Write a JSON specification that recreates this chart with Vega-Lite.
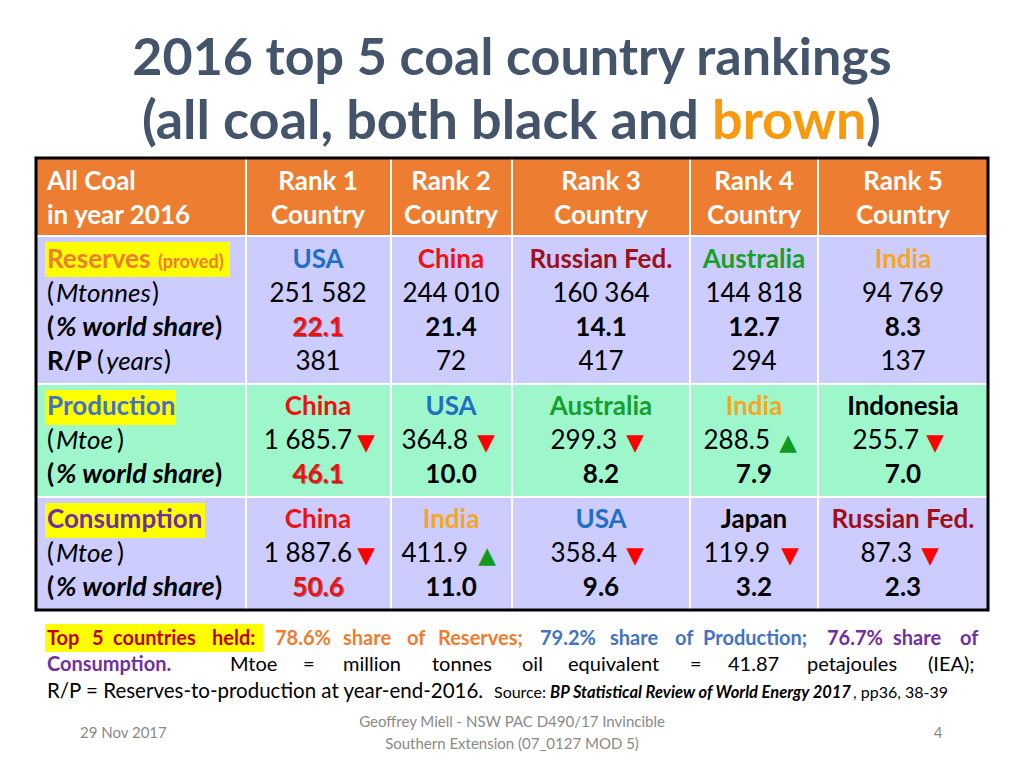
{
  "$schema": "https://vega.github.io/schema/vega-lite/v6.json",
  "width": 1024,
  "height": 768,
  "autosize": {"type": "fit", "contains": "padding"},
  "padding": 0,
  "background": "white",
  "config": {"view": {"stroke": null}},
  "datasets": {
    "cells": [
      {"x1": 36, "x2": 246, "y1": 158, "y2": 236, "f": "#ED7D31"},
      {"x1": 246, "x2": 391, "y1": 158, "y2": 236, "f": "#ED7D31"},
      {"x1": 391, "x2": 512, "y1": 158, "y2": 236, "f": "#ED7D31"},
      {"x1": 512, "x2": 690, "y1": 158, "y2": 236, "f": "#ED7D31"},
      {"x1": 690, "x2": 818, "y1": 158, "y2": 236, "f": "#ED7D31"},
      {"x1": 818, "x2": 988, "y1": 158, "y2": 236, "f": "#ED7D31"},
      {"x1": 36, "x2": 246, "y1": 236, "y2": 384, "f": "#CCCCFF"},
      {"x1": 246, "x2": 391, "y1": 236, "y2": 384, "f": "#CCCCFF"},
      {"x1": 391, "x2": 512, "y1": 236, "y2": 384, "f": "#CCCCFF"},
      {"x1": 512, "x2": 690, "y1": 236, "y2": 384, "f": "#CCCCFF"},
      {"x1": 690, "x2": 818, "y1": 236, "y2": 384, "f": "#CCCCFF"},
      {"x1": 818, "x2": 988, "y1": 236, "y2": 384, "f": "#CCCCFF"},
      {"x1": 36, "x2": 246, "y1": 384, "y2": 497, "f": "#9EF7CB"},
      {"x1": 246, "x2": 391, "y1": 384, "y2": 497, "f": "#9EF7CB"},
      {"x1": 391, "x2": 512, "y1": 384, "y2": 497, "f": "#9EF7CB"},
      {"x1": 512, "x2": 690, "y1": 384, "y2": 497, "f": "#9EF7CB"},
      {"x1": 690, "x2": 818, "y1": 384, "y2": 497, "f": "#9EF7CB"},
      {"x1": 818, "x2": 988, "y1": 384, "y2": 497, "f": "#9EF7CB"},
      {"x1": 36, "x2": 246, "y1": 497, "y2": 610, "f": "#CCCCFF"},
      {"x1": 246, "x2": 391, "y1": 497, "y2": 610, "f": "#CCCCFF"},
      {"x1": 391, "x2": 512, "y1": 497, "y2": 610, "f": "#CCCCFF"},
      {"x1": 512, "x2": 690, "y1": 497, "y2": 610, "f": "#CCCCFF"},
      {"x1": 690, "x2": 818, "y1": 497, "y2": 610, "f": "#CCCCFF"},
      {"x1": 818, "x2": 988, "y1": 497, "y2": 610, "f": "#CCCCFF"}
    ],
    "highlights": [
      {"x1": 45, "x2": 230, "y1": 242, "y2": 277},
      {"x1": 45, "x2": 176, "y1": 390, "y2": 425},
      {"x1": 45, "x2": 205, "y1": 503, "y2": 538},
      {"x1": 45, "x2": 263, "y1": 624, "y2": 652}
    ],
    "border": [{"x1": 36, "x2": 988, "y1": 158, "y2": 610}],
    "texts": [
      {"t": "2016 top 5 coal country rankings", "x": 512, "y": 75, "c": "#44546A", "z": 52, "s": "cb"},
      {"t": "(all coal, both black and", "x": 699, "y": 139, "c": "#44546A", "z": 54, "s": "rb"},
      {"t": "brown", "x": 712, "y": 139, "c": "#F79A0E", "z": 54, "s": "lb"},
      {"t": ")", "x": 866, "y": 139, "c": "#44546A", "z": 54, "s": "lb"},

      {"t": "All Coal", "x": 47, "y": 190, "c": "#FFFFFF", "z": 26, "s": "lb"},
      {"t": "in year 2016", "x": 47, "y": 224, "c": "#FFFFFF", "z": 26, "s": "lb"},
      {"t": "Rank 1", "x": 318, "y": 190, "c": "#FFFFFF", "z": 26, "s": "cb"},
      {"t": "Rank 2", "x": 451, "y": 190, "c": "#FFFFFF", "z": 26, "s": "cb"},
      {"t": "Rank 3", "x": 601, "y": 190, "c": "#FFFFFF", "z": 26, "s": "cb"},
      {"t": "Rank 4", "x": 754, "y": 190, "c": "#FFFFFF", "z": 26, "s": "cb"},
      {"t": "Rank 5", "x": 903, "y": 190, "c": "#FFFFFF", "z": 26, "s": "cb"},
      {"t": "Country", "x": 318, "y": 224, "c": "#FFFFFF", "z": 26, "s": "cb"},
      {"t": "Country", "x": 451, "y": 224, "c": "#FFFFFF", "z": 26, "s": "cb"},
      {"t": "Country", "x": 601, "y": 224, "c": "#FFFFFF", "z": 26, "s": "cb"},
      {"t": "Country", "x": 754, "y": 224, "c": "#FFFFFF", "z": 26, "s": "cb"},
      {"t": "Country", "x": 903, "y": 224, "c": "#FFFFFF", "z": 26, "s": "cb"},

      {"t": "Reserves", "x": 47, "y": 268, "c": "#ED7D31", "z": 26, "s": "lb"},
      {"t": "(proved)", "x": 158, "y": 268, "c": "#ED7D31", "z": 18, "s": "lb"},
      {"t": "(", "x": 47, "y": 302, "c": "#000000", "z": 26, "s": "ln"},
      {"t": "Mtonnes", "x": 56, "y": 302, "c": "#000000", "z": 26, "s": "li"},
      {"t": ")", "x": 152, "y": 302, "c": "#000000", "z": 26, "s": "ln"},
      {"t": "(", "x": 47, "y": 336, "c": "#000000", "z": 26, "s": "lb"},
      {"t": "% world share", "x": 56, "y": 336, "c": "#000000", "z": 27, "s": "lbi"},
      {"t": ")", "x": 215, "y": 336, "c": "#000000", "z": 26, "s": "lb"},
      {"t": "R/P", "x": 47, "y": 370, "c": "#000000", "z": 26, "s": "lb"},
      {"t": "(", "x": 97, "y": 370, "c": "#000000", "z": 26, "s": "ln"},
      {"t": "years", "x": 106, "y": 370, "c": "#000000", "z": 26, "s": "li"},
      {"t": ")", "x": 164, "y": 370, "c": "#000000", "z": 26, "s": "ln"},

      {"t": "USA", "x": 318, "y": 268, "c": "#1F6FC5", "z": 26, "s": "cb"},
      {"t": "China", "x": 451, "y": 268, "c": "#EE1111", "z": 26, "s": "cb"},
      {"t": "Russian Fed.", "x": 601, "y": 268, "c": "#A0101A", "z": 26, "s": "cb"},
      {"t": "Australia", "x": 754, "y": 268, "c": "#16A02A", "z": 26, "s": "cb"},
      {"t": "India", "x": 903, "y": 268, "c": "#F5A623", "z": 26, "s": "cb"},
      {"t": "251 582", "x": 318, "y": 302, "c": "#000000", "z": 26, "s": "cn"},
      {"t": "244 010", "x": 451, "y": 302, "c": "#000000", "z": 26, "s": "cn"},
      {"t": "160 364", "x": 601, "y": 302, "c": "#000000", "z": 26, "s": "cn"},
      {"t": "144 818", "x": 754, "y": 302, "c": "#000000", "z": 26, "s": "cn"},
      {"t": "94 769", "x": 903, "y": 302, "c": "#000000", "z": 26, "s": "cn"},
      {"t": "22.1", "x": 318, "y": 336, "c": "#EE1111", "z": 26, "s": "cbs"},
      {"t": "21.4", "x": 451, "y": 336, "c": "#000000", "z": 26, "s": "cb"},
      {"t": "14.1", "x": 601, "y": 336, "c": "#000000", "z": 26, "s": "cb"},
      {"t": "12.7", "x": 754, "y": 336, "c": "#000000", "z": 26, "s": "cb"},
      {"t": "8.3", "x": 903, "y": 336, "c": "#000000", "z": 26, "s": "cb"},
      {"t": "381", "x": 318, "y": 370, "c": "#000000", "z": 26, "s": "cn"},
      {"t": "72", "x": 451, "y": 370, "c": "#000000", "z": 26, "s": "cn"},
      {"t": "417", "x": 601, "y": 370, "c": "#000000", "z": 26, "s": "cn"},
      {"t": "294", "x": 754, "y": 370, "c": "#000000", "z": 26, "s": "cn"},
      {"t": "137", "x": 903, "y": 370, "c": "#000000", "z": 26, "s": "cn"},

      {"t": "Production", "x": 47, "y": 415, "c": "#4472C4", "z": 26, "s": "lb"},
      {"t": "(", "x": 47, "y": 449, "c": "#000000", "z": 26, "s": "ln"},
      {"t": "Mtoe", "x": 56, "y": 449, "c": "#000000", "z": 26, "s": "li"},
      {"t": ")", "x": 117, "y": 449, "c": "#000000", "z": 26, "s": "ln"},
      {"t": "(", "x": 47, "y": 483, "c": "#000000", "z": 26, "s": "lb"},
      {"t": "% world share", "x": 56, "y": 483, "c": "#000000", "z": 27, "s": "lbi"},
      {"t": ")", "x": 215, "y": 483, "c": "#000000", "z": 26, "s": "lb"},
      {"t": "China", "x": 318, "y": 415, "c": "#EE1111", "z": 26, "s": "cb"},
      {"t": "USA", "x": 451, "y": 415, "c": "#1F6FC5", "z": 26, "s": "cb"},
      {"t": "Australia", "x": 601, "y": 415, "c": "#16A02A", "z": 26, "s": "cb"},
      {"t": "India", "x": 754, "y": 415, "c": "#F5A623", "z": 26, "s": "cb"},
      {"t": "Indonesia", "x": 903, "y": 415, "c": "#000000", "z": 26, "s": "cb"},
      {"t": "1 685.7", "x": 352, "y": 449, "c": "#000000", "z": 26, "s": "rn"},
      {"t": "364.8", "x": 468, "y": 449, "c": "#000000", "z": 26, "s": "rn"},
      {"t": "299.3", "x": 617, "y": 449, "c": "#000000", "z": 26, "s": "rn"},
      {"t": "288.5", "x": 770, "y": 449, "c": "#000000", "z": 26, "s": "rn"},
      {"t": "255.7", "x": 919, "y": 449, "c": "#000000", "z": 26, "s": "rn"},
      {"t": "▼", "x": 366, "y": 450, "c": "#FF0000", "z": 23, "s": "ar"},
      {"t": "▼", "x": 486, "y": 450, "c": "#FF0000", "z": 23, "s": "ar"},
      {"t": "▼", "x": 635, "y": 450, "c": "#FF0000", "z": 23, "s": "ar"},
      {"t": "▲", "x": 788, "y": 450, "c": "#119922", "z": 23, "s": "ar"},
      {"t": "▼", "x": 935, "y": 450, "c": "#FF0000", "z": 23, "s": "ar"},
      {"t": "46.1", "x": 318, "y": 483, "c": "#EE1111", "z": 26, "s": "cbs"},
      {"t": "10.0", "x": 451, "y": 483, "c": "#000000", "z": 26, "s": "cb"},
      {"t": "8.2", "x": 601, "y": 483, "c": "#000000", "z": 26, "s": "cb"},
      {"t": "7.9", "x": 754, "y": 483, "c": "#000000", "z": 26, "s": "cb"},
      {"t": "7.0", "x": 903, "y": 483, "c": "#000000", "z": 26, "s": "cb"},

      {"t": "Consumption", "x": 47, "y": 528, "c": "#7030A0", "z": 26, "s": "lb"},
      {"t": "(", "x": 47, "y": 562, "c": "#000000", "z": 26, "s": "ln"},
      {"t": "Mtoe", "x": 56, "y": 562, "c": "#000000", "z": 26, "s": "li"},
      {"t": ")", "x": 117, "y": 562, "c": "#000000", "z": 26, "s": "ln"},
      {"t": "(", "x": 47, "y": 596, "c": "#000000", "z": 26, "s": "lb"},
      {"t": "% world share", "x": 56, "y": 596, "c": "#000000", "z": 27, "s": "lbi"},
      {"t": ")", "x": 215, "y": 596, "c": "#000000", "z": 26, "s": "lb"},
      {"t": "China", "x": 318, "y": 528, "c": "#EE1111", "z": 26, "s": "cb"},
      {"t": "India", "x": 451, "y": 528, "c": "#F5A623", "z": 26, "s": "cb"},
      {"t": "USA", "x": 601, "y": 528, "c": "#1F6FC5", "z": 26, "s": "cb"},
      {"t": "Japan", "x": 754, "y": 528, "c": "#000000", "z": 26, "s": "cb"},
      {"t": "Russian Fed.", "x": 903, "y": 528, "c": "#A0101A", "z": 26, "s": "cb"},
      {"t": "1 887.6", "x": 352, "y": 562, "c": "#000000", "z": 26, "s": "rn"},
      {"t": "411.9", "x": 468, "y": 562, "c": "#000000", "z": 26, "s": "rn"},
      {"t": "358.4", "x": 617, "y": 562, "c": "#000000", "z": 26, "s": "rn"},
      {"t": "119.9", "x": 770, "y": 562, "c": "#000000", "z": 26, "s": "rn"},
      {"t": "87.3", "x": 912, "y": 562, "c": "#000000", "z": 26, "s": "rn"},
      {"t": "▼", "x": 366, "y": 563, "c": "#FF0000", "z": 23, "s": "ar"},
      {"t": "▲", "x": 487, "y": 563, "c": "#119922", "z": 23, "s": "ar"},
      {"t": "▼", "x": 635, "y": 563, "c": "#FF0000", "z": 23, "s": "ar"},
      {"t": "▼", "x": 790, "y": 563, "c": "#FF0000", "z": 23, "s": "ar"},
      {"t": "▼", "x": 930, "y": 563, "c": "#FF0000", "z": 23, "s": "ar"},
      {"t": "50.6", "x": 318, "y": 596, "c": "#EE1111", "z": 26, "s": "cbs"},
      {"t": "11.0", "x": 451, "y": 596, "c": "#000000", "z": 26, "s": "cb"},
      {"t": "9.6", "x": 601, "y": 596, "c": "#000000", "z": 26, "s": "cb"},
      {"t": "3.2", "x": 754, "y": 596, "c": "#000000", "z": 26, "s": "cb"},
      {"t": "2.3", "x": 903, "y": 596, "c": "#000000", "z": 26, "s": "cb"},

      {"t": "Top", "x": 47, "y": 645, "c": "#C00000", "z": 20, "s": "lb"},
      {"t": "5", "x": 92, "y": 645, "c": "#C00000", "z": 20, "s": "lb"},
      {"t": "countries", "x": 113, "y": 645, "c": "#C00000", "z": 20, "s": "lb"},
      {"t": "held:", "x": 212, "y": 645, "c": "#C00000", "z": 20, "s": "lb"},
      {"t": "78.6%", "x": 275, "y": 645, "c": "#ED7D31", "z": 20, "s": "lb"},
      {"t": "share", "x": 343, "y": 645, "c": "#ED7D31", "z": 20, "s": "lb"},
      {"t": "of", "x": 407, "y": 645, "c": "#ED7D31", "z": 20, "s": "lb"},
      {"t": "Reserves;", "x": 438, "y": 645, "c": "#ED7D31", "z": 20, "s": "lb"},
      {"t": "79.2%", "x": 540, "y": 645, "c": "#4472C4", "z": 20, "s": "lb"},
      {"t": "share", "x": 610, "y": 645, "c": "#4472C4", "z": 20, "s": "lb"},
      {"t": "of", "x": 675, "y": 645, "c": "#4472C4", "z": 20, "s": "lb"},
      {"t": "Production;", "x": 703, "y": 645, "c": "#4472C4", "z": 20, "s": "lb"},
      {"t": "76.7%", "x": 827, "y": 645, "c": "#7030A0", "z": 20, "s": "lb"},
      {"t": "share", "x": 893, "y": 645, "c": "#7030A0", "z": 20, "s": "lb"},
      {"t": "of", "x": 960, "y": 645, "c": "#7030A0", "z": 20, "s": "lb"},
      {"t": "Consumption.", "x": 47, "y": 671, "c": "#7030A0", "z": 20, "s": "lb"},
      {"t": "Mtoe", "x": 230, "y": 671, "c": "#000000", "z": 20, "s": "ln"},
      {"t": "=", "x": 303, "y": 671, "c": "#000000", "z": 20, "s": "ln"},
      {"t": "million", "x": 343, "y": 671, "c": "#000000", "z": 20, "s": "ln"},
      {"t": "tonnes", "x": 432, "y": 671, "c": "#000000", "z": 20, "s": "ln"},
      {"t": "oil", "x": 522, "y": 671, "c": "#000000", "z": 20, "s": "ln"},
      {"t": "equivalent", "x": 568, "y": 671, "c": "#000000", "z": 20, "s": "ln"},
      {"t": "=", "x": 690, "y": 671, "c": "#000000", "z": 20, "s": "ln"},
      {"t": "41.87", "x": 728, "y": 671, "c": "#000000", "z": 20, "s": "ln"},
      {"t": "petajoules", "x": 807, "y": 671, "c": "#000000", "z": 20, "s": "ln"},
      {"t": "(IEA);", "x": 928, "y": 671, "c": "#000000", "z": 20, "s": "ln"},
      {"t": "R/P = Reserves-to-production at year-end-2016.", "x": 47, "y": 698, "c": "#000000", "z": 20.5, "s": "ln"},
      {"t": "Source:", "x": 494, "y": 698, "c": "#000000", "z": 16, "s": "ln"},
      {"t": "BP Statistical Review of World Energy 2017", "x": 550, "y": 698, "c": "#000000", "z": 16.5, "s": "lbi"},
      {"t": ", pp36, 38-39", "x": 853, "y": 698, "c": "#000000", "z": 16, "s": "ln"},

      {"t": "29 Nov 2017", "x": 80, "y": 738, "c": "#898989", "z": 15, "s": "ln"},
      {"t": "Geoffrey Miell - NSW PAC D490/17 Invincible", "x": 512, "y": 727, "c": "#898989", "z": 15, "s": "cn"},
      {"t": "Southern Extension (07_0127 MOD 5)", "x": 512, "y": 749, "c": "#898989", "z": 15, "s": "cn"},
      {"t": "4", "x": 938, "y": 738, "c": "#898989", "z": 15, "s": "cn"}
    ]
  },
  "encoding": {
    "x": {"field": "x", "type": "quantitative", "scale": {"domain": [0, 1024], "nice": false, "zero": false}, "axis": null},
    "y": {"field": "y", "type": "quantitative", "scale": {"domain": [0, 768], "nice": false, "zero": false, "reverse": true}, "axis": null}
  },
  "layer": [
    {
      "data": {"name": "cells"},
      "mark": {"type": "rect", "stroke": "#FFFFFF", "strokeWidth": 2},
      "encoding": {
        "x": {"field": "x1", "type": "quantitative", "scale": {"domain": [0, 1024], "nice": false, "zero": false}, "axis": null},
        "x2": {"field": "x2"},
        "y": {"field": "y1", "type": "quantitative", "scale": {"domain": [0, 768], "nice": false, "zero": false, "reverse": true}, "axis": null},
        "y2": {"field": "y2"},
        "fill": {"field": "f", "type": "nominal", "scale": null}
      }
    },
    {
      "data": {"name": "highlights"},
      "mark": {"type": "rect", "fill": "#FFFF00"},
      "encoding": {
        "x": {"field": "x1", "type": "quantitative", "scale": {"domain": [0, 1024], "nice": false, "zero": false}, "axis": null},
        "x2": {"field": "x2"},
        "y": {"field": "y1", "type": "quantitative", "scale": {"domain": [0, 768], "nice": false, "zero": false, "reverse": true}, "axis": null},
        "y2": {"field": "y2"}
      }
    },
    {
      "data": {"name": "border"},
      "mark": {"type": "rect", "fillOpacity": 0, "stroke": "#000000", "strokeWidth": 3},
      "encoding": {
        "x": {"field": "x1", "type": "quantitative", "scale": {"domain": [0, 1024], "nice": false, "zero": false}, "axis": null},
        "x2": {"field": "x2"},
        "y": {"field": "y1", "type": "quantitative", "scale": {"domain": [0, 768], "nice": false, "zero": false, "reverse": true}, "axis": null},
        "y2": {"field": "y2"}
      }
    },
    {
      "data": {"name": "texts"},
      "transform": [{"filter": "datum.s === 'cn'"}],
      "mark": {"type": "text", "align": "center", "baseline": "alphabetic", "font": "Lato"},
      "encoding": {"text": {"field": "t"}, "color": {"field": "c", "type": "nominal", "scale": null}, "size": {"field": "z", "type": "quantitative", "scale": null}}
    },
    {
      "data": {"name": "texts"},
      "transform": [{"filter": "datum.s === 'cbs'"}],
      "mark": {"type": "text", "align": "center", "baseline": "alphabetic", "font": "Lato", "fontWeight": "bold", "dx": 1, "dy": 1, "color": "#5A0000", "opacity": 0.5},
      "encoding": {"text": {"field": "t"}, "size": {"field": "z", "type": "quantitative", "scale": null}}
    },
    {
      "data": {"name": "texts"},
      "transform": [{"filter": "datum.s === 'cb' || datum.s === 'cbs'"}],
      "mark": {"type": "text", "align": "center", "baseline": "alphabetic", "font": "Lato", "fontWeight": "bold"},
      "encoding": {"text": {"field": "t"}, "color": {"field": "c", "type": "nominal", "scale": null}, "size": {"field": "z", "type": "quantitative", "scale": null}}
    },
    {
      "data": {"name": "texts"},
      "transform": [{"filter": "datum.s === 'ln'"}],
      "mark": {"type": "text", "align": "left", "baseline": "alphabetic", "font": "Lato"},
      "encoding": {"text": {"field": "t"}, "color": {"field": "c", "type": "nominal", "scale": null}, "size": {"field": "z", "type": "quantitative", "scale": null}}
    },
    {
      "data": {"name": "texts"},
      "transform": [{"filter": "datum.s === 'lb'"}],
      "mark": {"type": "text", "align": "left", "baseline": "alphabetic", "font": "Lato", "fontWeight": "bold"},
      "encoding": {"text": {"field": "t"}, "color": {"field": "c", "type": "nominal", "scale": null}, "size": {"field": "z", "type": "quantitative", "scale": null}}
    },
    {
      "data": {"name": "texts"},
      "transform": [{"filter": "datum.s === 'li'"}],
      "mark": {"type": "text", "align": "left", "baseline": "alphabetic", "font": "Lato", "fontStyle": "italic"},
      "encoding": {"text": {"field": "t"}, "color": {"field": "c", "type": "nominal", "scale": null}, "size": {"field": "z", "type": "quantitative", "scale": null}}
    },
    {
      "data": {"name": "texts"},
      "transform": [{"filter": "datum.s === 'lbi'"}],
      "mark": {"type": "text", "align": "left", "baseline": "alphabetic", "font": "Lato", "fontWeight": "bold", "fontStyle": "italic"},
      "encoding": {"text": {"field": "t"}, "color": {"field": "c", "type": "nominal", "scale": null}, "size": {"field": "z", "type": "quantitative", "scale": null}}
    },
    {
      "data": {"name": "texts"},
      "transform": [{"filter": "datum.s === 'rn'"}],
      "mark": {"type": "text", "align": "right", "baseline": "alphabetic", "font": "Lato"},
      "encoding": {"text": {"field": "t"}, "color": {"field": "c", "type": "nominal", "scale": null}, "size": {"field": "z", "type": "quantitative", "scale": null}}
    },
    {
      "data": {"name": "texts"},
      "transform": [{"filter": "datum.s === 'rb'"}],
      "mark": {"type": "text", "align": "right", "baseline": "alphabetic", "font": "Lato", "fontWeight": "bold"},
      "encoding": {"text": {"field": "t"}, "color": {"field": "c", "type": "nominal", "scale": null}, "size": {"field": "z", "type": "quantitative", "scale": null}}
    },
    {
      "data": {"name": "texts"},
      "transform": [{"filter": "datum.s === 'ar'"}],
      "mark": {"type": "text", "align": "center", "baseline": "alphabetic", "font": "DejaVu Sans"},
      "encoding": {"text": {"field": "t"}, "color": {"field": "c", "type": "nominal", "scale": null}, "size": {"field": "z", "type": "quantitative", "scale": null}}
    }
  ]
}
